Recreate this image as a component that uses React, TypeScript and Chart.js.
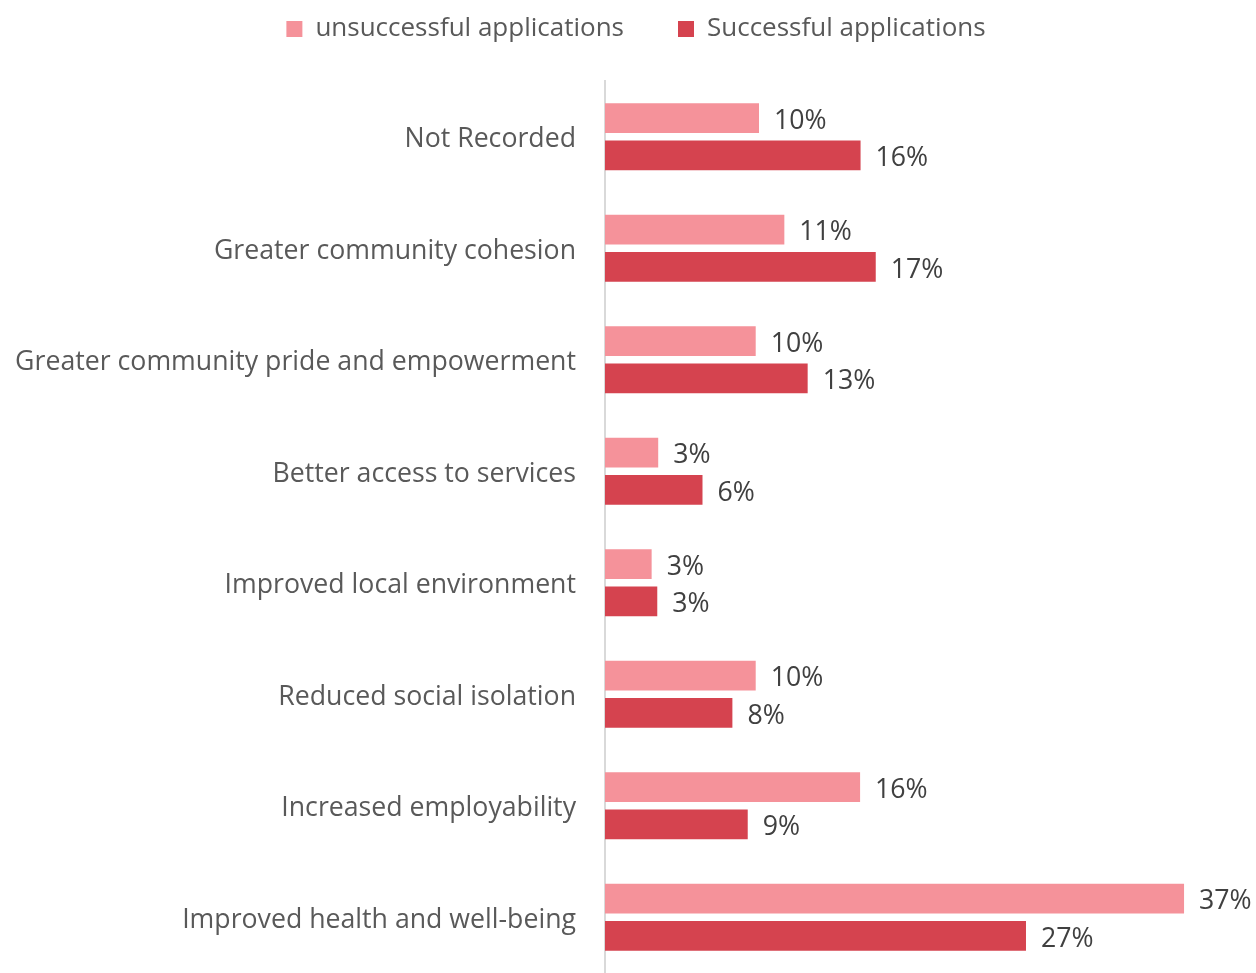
import React, { useEffect, useRef } from "react";
import { Chart, registerables } from "chart.js";

Chart.register(...registerables);

const categories = [
  "Not Recorded",
  "Greater community cohesion",
  "Greater community pride and empowerment",
  "Better access to services",
  "Improved local environment",
  "Reduced social isolation",
  "Increased employability",
  "Improved health and well-being",
];
const seriesNames = ["unsuccessful applications", "Successful applications"];
const unsuccessful = [9.84, 11.46, 9.63, 3.4, 2.98, 9.63, 16.3, 37.0];
const successful = [16.33, 17.3, 12.95, 6.23, 3.34, 8.14, 9.12, 26.9];
const seriesColors = ["#F5929A", "#D5434F"];

const FONT = "'Open Sans', sans-serif";
const FONT_SIZE = 26.7;
const LEGEND_FONT_SIZE = 26;
const LEGEND_PAD = 54;
const LEGEND_DRAW_TOP = -38;
const LEGEND_SHIFT_X = 8;
const PLOT_TOP = 81;
const AXIS_X = 605;

const valueLabels = {
  id: "valueLabels",
  afterDatasetsDraw(chart: any) {
    const ctx = chart.ctx;
    ctx.save();
    ctx.font = `${FONT_SIZE}px ${FONT}`;
    ctx.fillStyle = "#404040";
    ctx.textAlign = "left";
    ctx.textBaseline = "middle";
    chart.data.datasets.forEach((ds: any, i: number) => {
      const meta = chart.getDatasetMeta(i);
      meta.data.forEach((bar: any, j: number) => {
        ctx.fillText(Math.round(ds.data[j]) + "%", bar.x + 15, bar.y + 3);
      });
    });
    ctx.restore();
  },
};

const legendFit = {
  id: "legendFit",
  beforeLayout(chart: any) {
    const lg = chart.legend;
    if (lg && !lg._patchedFit) {
      const orig = lg.fit;
      lg.fit = function () {
        orig.call(this);
        this.height = PLOT_TOP;
      };
      lg._patchedFit = true;
    }
  },
  afterLayout(chart: any) {
    const lg = chart.legend;
    if (lg) {
      lg.top = LEGEND_DRAW_TOP;
      lg.bottom = LEGEND_DRAW_TOP + lg.height;
      lg.left = LEGEND_SHIFT_X;
      lg.right = chart.width + LEGEND_SHIFT_X;
    }
  },
};

export default function App() {
  const ref = useRef<HTMLCanvasElement | null>(null);

  useEffect(() => {
    if (!ref.current) return;
    const chart = new Chart(ref.current, {
      type: "bar",
      data: {
        labels: categories,
        datasets: [
          {
            label: seriesNames[0],
            data: unsuccessful,
            backgroundColor: seriesColors[0],
            borderWidth: 0,
            categoryPercentage: 0.67,
            barPercentage: 0.8,
          },
          {
            label: seriesNames[1],
            data: successful,
            backgroundColor: seriesColors[1],
            borderWidth: 0,
            categoryPercentage: 0.67,
            barPercentage: 0.8,
          },
        ],
      },
      options: {
        indexAxis: "y",
        animation: false,
        responsive: true,
        maintainAspectRatio: false,
        layout: { padding: 0 },
        plugins: {
          tooltip: { enabled: false },
          legend: {
            display: true,
            position: "top",
            labels: {
              boxWidth: 16,
              boxHeight: 16,
              padding: LEGEND_PAD,
              color: "#595959",
              font: { family: FONT, size: LEGEND_FONT_SIZE },
            },
          },
        },
        scales: {
          x: {
            display: false,
            min: 0,
            max: (1256 - AXIS_X) / 15.65,
          },
          y: {
            grid: { display: false, drawTicks: false },
            border: { display: true, color: "#D9D9D9", width: 2 },
            ticks: {
              color: "#595959",
              padding: 29,
              labelOffset: 3,
              font: { family: FONT, size: FONT_SIZE },
            },
            afterFit(scale: any) {
              scale.width = AXIS_X;
              scale.paddingTop = 0;
              scale.paddingBottom = 0;
            },
          },
        },
      },
      plugins: [valueLabels, legendFit],
    } as any);
    return () => chart.destroy();
  }, []);

  return (
    <div style={{ position: "fixed", left: 0, top: 0, width: 1256, height: 973, background: "#fff" }}>
      <canvas ref={ref} />
    </div>
  );
}
